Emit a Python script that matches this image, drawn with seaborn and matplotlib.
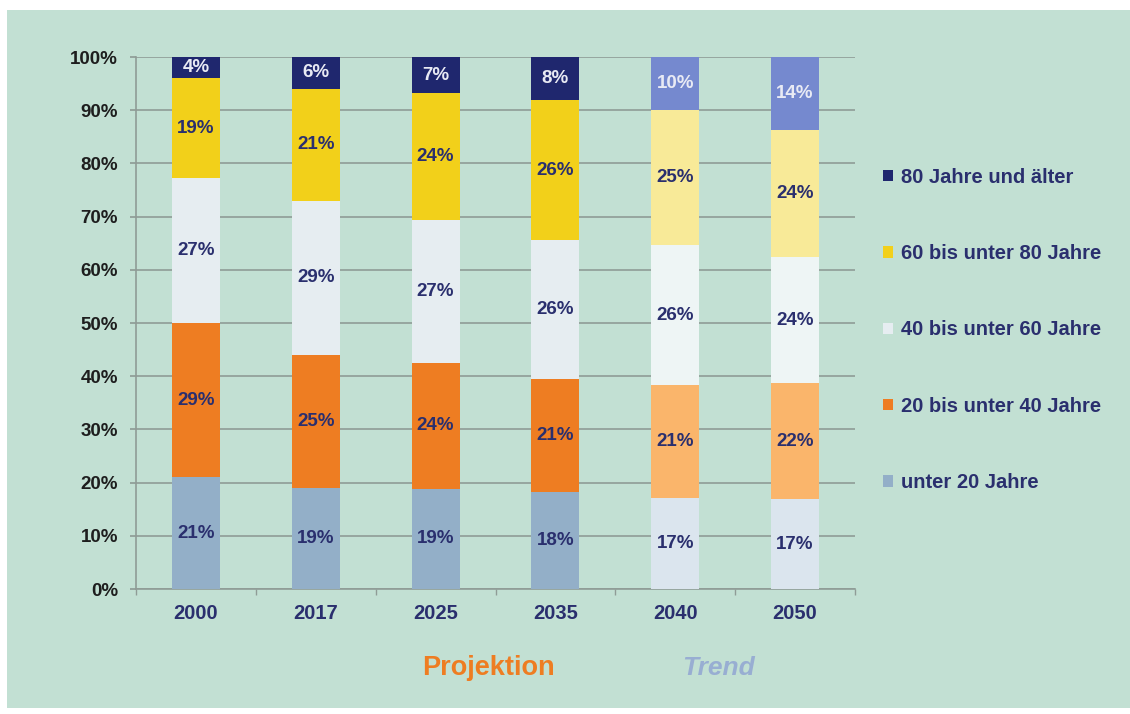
import numpy as np
import pandas as pd
import matplotlib.pyplot as plt
import seaborn as sns
from matplotlib.patches import Patch, Rectangle

# Data, shares in percent, bottom to top
years = ["2000", "2017", "2025", "2035", "2040", "2050"]
groups = ["unter 20 Jahre", "20 bis unter 40 Jahre", "40 bis unter 60 Jahre",
          "60 bis unter 80 Jahre", "80 Jahre und älter"]
unter20 = [21.0, 19.0, 18.8, 18.2, 17.1, 16.9]
u20_40 = [29.0, 25.0, 23.7, 21.3, 21.2, 21.8]
u40_60 = [27.2, 29.0, 26.9, 26.1, 26.4, 23.7]
u60_80 = [18.8, 21.0, 23.8, 26.3, 25.3, 23.9]
ab80 = [4.0, 6.0, 6.8, 8.1, 10.0, 13.7]
labels = [[21, 19, 19, 18, 17, 17],
          [29, 25, 24, 21, 21, 22],
          [27, 29, 27, 26, 26, 24],
          [19, 21, 24, 26, 25, 24],
          [4, 6, 7, 8, 10, 14]]

# colours: 4 "Projektion" bars, 2 "Trend" bars (lighter)
proj_colors = ["#93afc8", "#ee7d22", "#e6edf1", "#f2d01a", "#1f276e"]
trend_colors = ["#dbe5ee", "#fab56b", "#eef5f5", "#f8ea98", "#7589cf"]
n_proj = 4

BG = "#c2e0d3"
NAVY = "#2a2f6e"
GRID = "#8f9c96"

sns.set_theme(style="white")
plt.rcParams["font.family"] = ["Liberation Sans", "DejaVu Sans"]
plt.rcParams["font.weight"] = "bold"

fig = plt.figure(figsize=(11.3, 7.14), dpi=100)
fig.patch.set_facecolor("white")
fig.patches.append(Rectangle((7 / 1130, 6 / 714), 1, 1 - 16 / 714,
                             transform=fig.transFigure, facecolor=BG,
                             edgecolor="none", zorder=-10))
ax = fig.add_axes([136 / 1130, 1 - 589 / 714, (855 - 136) / 1130, (589 - 57) / 714])
ax.set_facecolor(BG)

layers = [unter20, u20_40, u40_60, u60_80, ab80]
cum = np.cumsum(np.array(layers), axis=0)

# stacked bars: draw cumulative totals from top to bottom so each layer overlays
for i in range(len(layers) - 1, -1, -1):
    df = pd.DataFrame({"year": years, "val": cum[i]})
    pal = [proj_colors[i]] * n_proj + [trend_colors[i]] * (len(years) - n_proj)
    sns.barplot(data=df, x="year", y="val", hue="year", palette=pal,
                saturation=1, width=0.4, linewidth=0, legend=False, ax=ax, zorder=3)

# segment labels
for i in range(len(layers)):
    base = cum[i] - np.array(layers[i])
    for j in range(len(years)):
        col = "#e8eaf4" if i == len(layers) - 1 else NAVY
        ax.text(j, base[j] + layers[i][j] / 2, f"{labels[i][j]}%",
                ha="center", va="center", fontsize=13.5, fontweight="bold",
                color=col, zorder=5)

ax.set_ylim(0, 100)
ax.set_xlim(-0.5, len(years) - 0.5)
ax.set_yticks(np.arange(0, 101, 10))
ax.set_yticklabels([f"{v}%" for v in range(0, 101, 10)])
ax.yaxis.grid(True, color=GRID, linewidth=1.2)
ax.set_axisbelow(True)
ax.set_xlabel("")
ax.set_ylabel("")
for s in ["top", "right"]:
    ax.spines[s].set_visible(False)
for s in ["left", "bottom"]:
    ax.spines[s].set_color(GRID)
    ax.spines[s].set_linewidth(1.2)
ax.tick_params(axis="y", length=4, color=GRID, pad=9, labelsize=13.5,
               labelcolor="#1e1e1e", left=True)
ax.tick_params(axis="x", length=0, pad=11, labelsize=14.5, labelcolor=NAVY)
ax.set_xticks(np.arange(-0.5, len(years), 1), minor=True)
ax.tick_params(axis="x", which="minor", length=4, color=GRID, bottom=True)
for t in ax.get_xticklabels() + ax.get_yticklabels():
    t.set_fontweight("bold")

# legend, top group first
handles = []
for i in range(len(groups) - 1, -1, -1):
    handles.append(Patch(facecolor=proj_colors[i], edgecolor="none", label=groups[i]))
fig.legend(handles=handles, loc="center left", bbox_to_anchor=(873 / 1130, 1 - 330 / 714),
           frameon=False, labelcolor=NAVY, handlelength=0.5,
           handleheight=0.5, handletextpad=0.4, labelspacing=2.85, borderpad=0,
           prop={"weight": "bold", "size": 14.5})

fig.text(488 / 1130, 1 - 668 / 714, "Projektion", ha="center", va="center",
         fontsize=19.5, fontweight="bold", color="#ee7d22")
fig.text(718 / 1130, 1 - 668 / 714, "Trend", ha="center", va="center",
         fontsize=19, fontweight="bold", fontstyle="italic", color="#98aed2")

fig.savefig("out.png", dpi=100, facecolor=fig.get_facecolor())
